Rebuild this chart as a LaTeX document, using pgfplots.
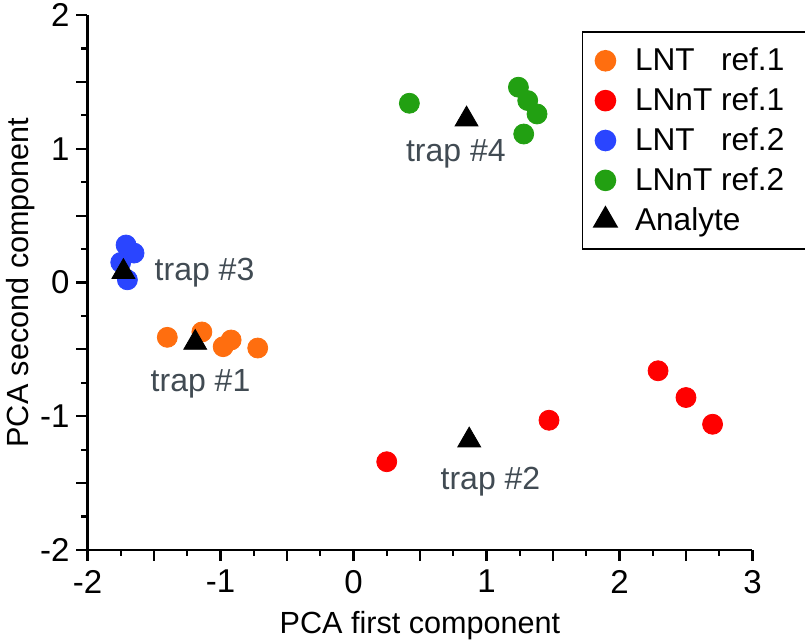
\documentclass[border=0pt]{standalone}
\usepackage{pgfplots}
\pgfplotsset{compat=1.18}
\usepackage{fontspec}
\usepackage{calc}
\setmainfont{Liberation Sans}
\definecolor{cOrange}{HTML}{FF6E0F}
\definecolor{cRed}{HTML}{FF0000}
\definecolor{cBlue}{HTML}{2A45FF}
\definecolor{cGreen}{HTML}{22A012}
\definecolor{cText}{HTML}{414B53}
\begin{document}
\begin{tikzpicture}
\begin{axis}[
  scale only axis,
  width=332.5pt, height=267.5pt,
  xmin=-2, xmax=3, ymin=-2, ymax=2,
  axis lines*=left,
  axis line style={line width=1.3pt, -},
  every tick/.style={black, line width=1.1pt},
  tick align=outside,
  xtick pos=bottom, ytick pos=left,
  xtick={-2,-1.5,...,3},
  xticklabels={-2,,-1,,0,,1,,2,,3},
  ytick={-2,-1.5,...,2},
  yticklabels={-2,,-1,,0,,1,,2},
  minor x tick num=1,
  minor y tick num=1,
  major tick length=5.5pt,
  minor tick length=3pt,
  tick label style={font=\fontsize{16.5}{19}\selectfont},
  xticklabel style={yshift=-1pt},
  xlabel={PCA first component},
  ylabel={PCA second component},
  label style={font=\fontsize{15.3}{18}\selectfont},
  xlabel style={yshift=-2pt},
  ylabel style={yshift=-4pt},
  legend style={at={(rel axis cs:0.743,0.970)}, anchor=north west,
    draw=black, line width=0.8pt,
    font=\fontsize{15.8}{19}\selectfont,
    inner xsep=3pt, inner ysep=6pt,
    row sep=3pt,
    legend cell align=left},
  legend image code/.code={\path[draw=none,fill=none] (0cm,0cm) -- (0.75cm,0cm); \draw[#1] plot coordinates {(0.3cm,0cm)};},
  clip=false,
]
\addplot[only marks, mark=*, mark size=5pt, color=cOrange, mark options={draw=none, fill=cOrange}] coordinates {
  (-1.40,-0.41) (-1.14,-0.37) (-0.98,-0.48) (-0.92,-0.43) (-0.72,-0.49)};
\addlegendentry{\makebox[\widthof{LNnT}][l]{LNT} ref.1}
\addplot[only marks, mark=*, mark size=5pt, color=cRed, mark options={draw=none, fill=cRed}] coordinates {
  (0.25,-1.34) (1.47,-1.03) (2.29,-0.66) (2.50,-0.86) (2.70,-1.06)};
\addlegendentry{LNnT ref.1}
\addplot[only marks, mark=*, mark size=5pt, color=cBlue, mark options={draw=none, fill=cBlue}] coordinates {
  (-1.71,0.28) (-1.65,0.22) (-1.75,0.15) (-1.70,0.02)};
\addlegendentry{\makebox[\widthof{LNnT}][l]{LNT} ref.2}
\addplot[only marks, mark=*, mark size=5pt, color=cGreen, mark options={draw=none, fill=cGreen}] coordinates {
  (0.42,1.34) (1.24,1.46) (1.31,1.36) (1.38,1.26) (1.28,1.11)};
\addlegendentry{LNnT ref.2\hspace*{8pt}}
\addplot[only marks, mark=triangle*, mark size=6.6pt, color=black, mark options={draw=none, fill=black}] coordinates {
  (-1.19,-0.45) (0.87,-1.18) (-1.73,0.08) (0.85,1.22)};
\addlegendentry{Analyte}
\node[text=cText, font=\fontsize{16}{19}\selectfont] at (axis cs:-1.15,-0.76) {trap \#1};
\node[text=cText, font=\fontsize{16}{19}\selectfont] at (axis cs:1.03,-1.49) {trap \#2};
\node[text=cText, font=\fontsize{16}{19}\selectfont] at (axis cs:-1.12,0.07) {trap \#3};
\node[text=cText, font=\fontsize{16}{19}\selectfont] at (axis cs:0.77,0.96) {trap \#4};
\coordinate (ll) at (rel axis cs:0,0);
\end{axis}
\pgfresetboundingbox
\path ([shift={(-43.75pt,-45pt)}]ll) rectangle ([shift={(358.75pt,275pt)}]ll);
\end{tikzpicture}
\end{document}
